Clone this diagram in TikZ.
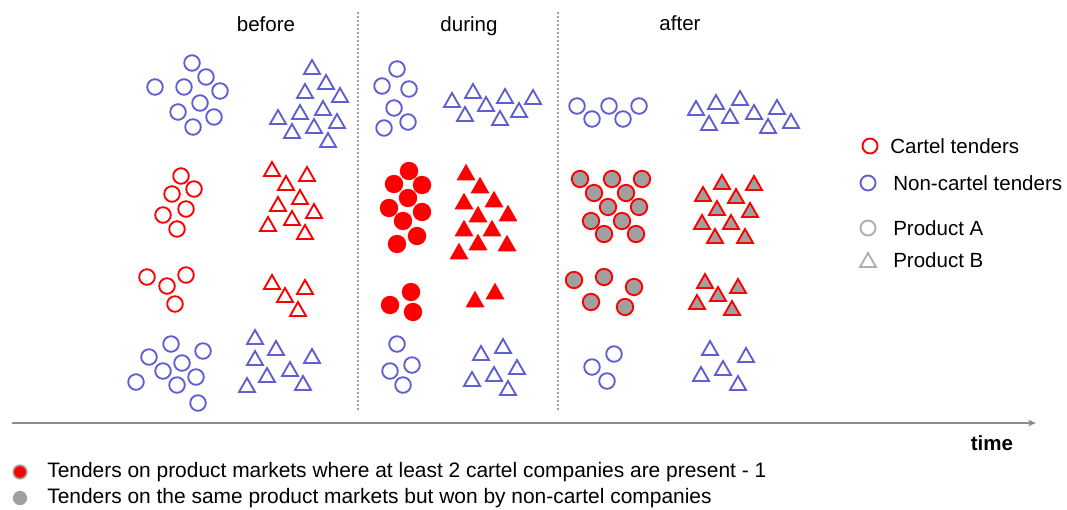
\documentclass[tikz,border=0pt]{standalone}
\usepackage{fontspec}
\setmainfont{Liberation Sans}
\usetikzlibrary{arrows.meta}
\definecolor{ncblue}{RGB}{95,95,210}
\definecolor{wongray}{RGB}{160,160,160}
\definecolor{keygray}{RGB}{175,175,175}
\definecolor{axisgray}{RGB}{140,140,140}

\begin{document}
\begin{tikzpicture}[x=0.75pt, y=-0.75pt,
    every node/.style={font=\fontsize{15.4}{18}\selectfont, inner sep=0pt},
    note/.style={anchor=west, font=\fontsize{15.7}{18}\selectfont},
    noncart/.style={draw=ncblue, line width=1.4pt},
    cart/.style={draw=red, line width=1.4pt},
    cartfill/.style={fill=red},
    won/.style={draw=red, fill=wongray, line width=1.4pt},
    divider/.style={draw=wongray, line width=1.5pt, dash pattern=on 1.5pt off 1.5pt},
    timeline/.style={draw=axisgray, line width=1.1pt, -{Stealth[length=6pt, width=5pt]}},
    tri/.pic={\path[pic actions] (0,-7) -- (8,7) -- (-8,7) -- cycle;}
  ]
  \useasboundingbox (0,0) rectangle (1067,510);

  % phases
  \node (before) at (266,24) {before};
  \node (during) at (469,26) {during};
  \node (after) at (680,23) {after};
  \coordinate (div1top) at (358,12);
  \coordinate (div1bot) at (358,412);
  \coordinate (div2top) at (558,12);
  \coordinate (div2bot) at (558,412);
  \draw[divider] (div1top) -- (div1bot);
  \draw[divider] (div2top) -- (div2bot);

  % time axis
  \coordinate (t0) at (12,423);
  \coordinate (t1) at (1036,423);
  \draw[timeline] (t0) -- (t1);
  \node[font=\fontsize{15.4}{18}\selectfont\bfseries] (time) at (992,443) {time};

  % non-cartel tenders, product A
  \foreach \p in {(192,63),(206,77),(155,87),(184,87),(220,91),(200,103),(178,112),(214,117),(193,127),
                  (171,344),(203,351),(149,357),(182,363),(163,371),(196,377),(136,382),(177,385),(198,403),
                  (397,69),(382,86),(409,89),(394,108),(408,122),(384,128),
                  (397,344),(412,365),(390,371),(403,385),
                  (577,106),(592,119),(609,106),(623,119),(639,106),
                  (614,354),(592,367),(607,381)}
    \draw[noncart] \p circle (7.8);

  % non-cartel tenders, product B
  \foreach \p in {(312,67),(326,82),(305,91),(340,95),(323,108),(278,117),(300,112),(337,121),(314,126),(292,131),(328,140),
                  (255,337),(276,348),(312,356),(255,358),(290,369),(267,375),(247,385),(303,383),
                  (473,91),(452,100),(505,96),(533,97),(486,104),(465,114),(519,110),(500,118),
                  (503,346),(481,353),(517,367),(494,374),(472,379),(508,388),
                  (696,108),(716,102),(740,98),(709,123),(730,116),(754,112),(777,107),(768,126),(791,121),
                  (710,348),(746,355),(723,368),(701,374),(738,383)}
    \pic[noncart] at \p {tri};

  % cartel tenders before
  \foreach \p in {(181,176),(194,189),(172,194),(186,209),(163,215),(177,229),
                  (147,277),(167,286),(186,275),(175,304)}
    \draw[cart] \p circle (7.8);
  \foreach \p in {(272,169),(307,174),(286,183),(300,197),(278,204),(314,211),(292,218),(268,224),(305,232),
                  (272,282),(305,287),(285,295),(298,309)}
    \pic[cart] at \p {tri};

  % cartel tenders during
  \foreach \p in {(409,171),(394,184),(422,185),(408,198),(389,208),(422,212),(403,221),(417,236),(397,244),
                  (411,292),(390,305),(413,312)}
    \fill[cartfill] \p circle (9.2);
  \foreach \p in {(466,172),(480,185),(464,201),(494,199),(478,214),(508,213),(464,228),(492,228),(478,242),(507,243),(459,251),
                  (495,291),(475,299)}
    \pic[cartfill, scale=1.18] at \p {tri};

  % after: won by non-cartel companies
  \foreach \p in {(580,179),(612,179),(642,179),(594,193),(626,193),(608,207),(639,207),(591,221),(622,221),(604,234),(636,234),
                  (574,280),(604,277),(634,287),(591,302),(625,307)}
    \draw[won] \p circle (8.2);
  \foreach \p in {(722,182),(754,183),(703,194),(736,196),(717,208),(750,210),(702,222),(731,222),(715,236),(745,236),
                  (705,281),(738,286),(718,294),(697,302),(732,308)}
    \pic[won] at \p {tri};

  % key
  \draw[cart] (870,146) circle (7.5);
  \node[anchor=west] (key-cartel) at (890,146) {Cartel tenders};
  \draw[noncart] (868,183) circle (7.5);
  \node[anchor=west] (key-noncartel) at (893,183) {Non-cartel tenders};
  \draw[draw=keygray, line width=1.4pt] (868,228) circle (7.5);
  \node[anchor=west] (key-prodA) at (893,228) {Product A};
  \pic[draw=keygray, line width=1.4pt] at (868,260) {tri};
  \node[anchor=west] (key-prodB) at (893,260) {Product B};

  % footnote
  \draw[fill=red, draw=wongray, line width=1.2pt] (20,472) circle (6.8);
  \node[note] (note-red) at (47,472) {Tenders on product markets where at least 2 cartel companies are present - 1};
  \fill[wongray] (20,498) circle (7.2);
  \node[note] (note-gray) at (47,498) {Tenders on the same product markets but won by non-cartel companies};
\end{tikzpicture}
\end{document}
